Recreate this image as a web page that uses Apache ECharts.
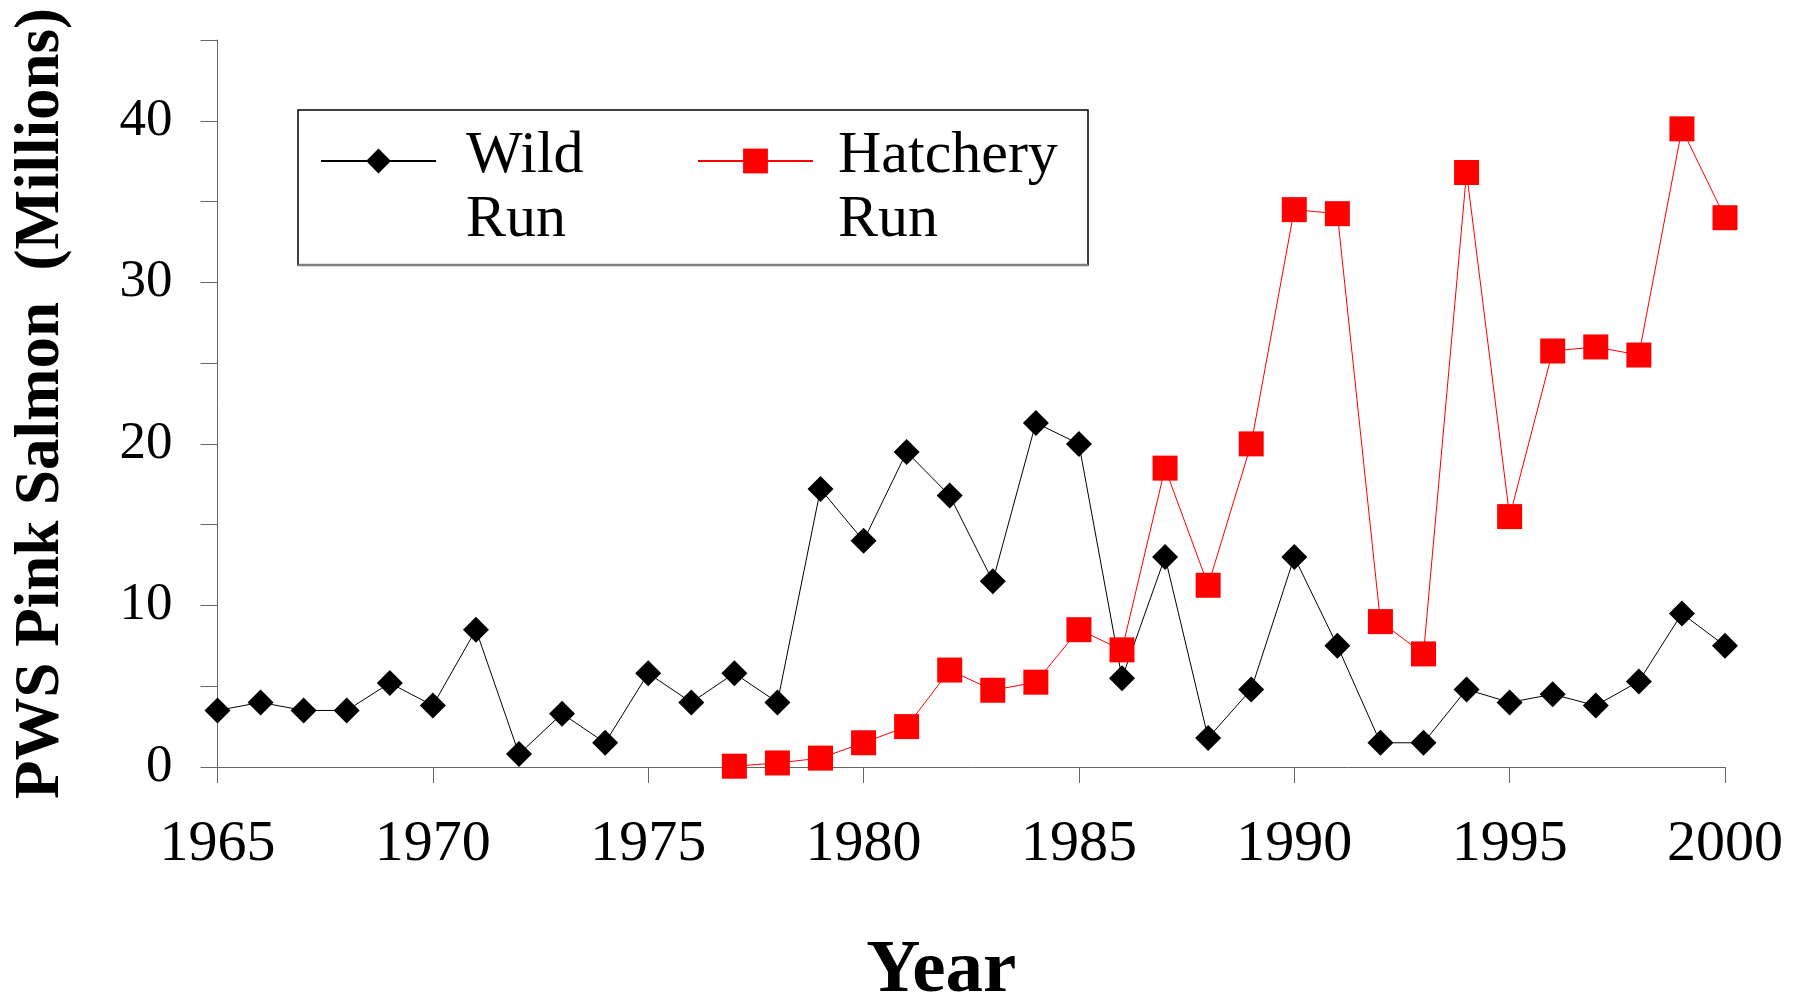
<!DOCTYPE html>
<html>
<head>
<meta charset="utf-8">
<script src="https://cdn.jsdelivr.net/npm/echarts@6/dist/echarts.min.js"></script>
<style>
  html, body { margin: 0; padding: 0; background: #fff; }
  #chart { width: 1814px; height: 993px; }
</style>
</head>
<body>
<div id="chart"></div>
<script>
// years and values (millions of fish)
const wildYears = [1965, 1966, 1967, 1968, 1969, 1970, 1971, 1972, 1973, 1974, 1975, 1976,
  1977, 1978, 1979, 1980, 1981, 1982, 1983, 1984, 1985, 1986, 1987, 1988,
  1989, 1990, 1991, 1992, 1993, 1994, 1995, 1996, 1997, 1998, 1999, 2000]
const wildRun = [3.5, 4.0, 3.5, 3.5, 5.2, 3.8, 8.5, 0.8, 3.3, 1.5, 5.8, 4.0,
  5.8, 4.0, 17.2, 14.0, 19.5, 16.8, 11.5, 21.3, 20.0, 5.5, 13.0, 1.8,
  4.8, 13.0, 7.5, 1.5, 1.5, 4.8, 4.0, 4.5, 3.8, 5.3, 9.5, 7.5]

const hatcheryYears = [1977, 1978, 1979, 1980, 1981, 1982, 1983, 1984, 1985, 1986, 1987, 1988,
  1989, 1990, 1991, 1992, 1993, 1994, 1995, 1996, 1997, 1998, 1999, 2000]
const hatcheryRun = [0.05, 0.25, 0.55, 1.5, 2.5, 6.0, 4.75, 5.25, 8.5, 7.25, 18.5, 11.25,
  20.0, 34.5, 34.25, 9.0, 7.0, 36.8, 15.5, 25.75, 26.0, 25.5, 39.5, 34.0]

const yTicks = [0, 10, 20, 30, 40]

const serif = 'Liberation Serif'
const axisGray = '#666'

const chart = echarts.init(document.getElementById('chart'))

// legend text: an empty first line so the icon sits beside the first word
const legendText = {
  fontFamily: serif,
  fontSize: 60,
  color: '#000',
  rich: {
    e: {fontFamily: serif, fontSize: 60, lineHeight: 55},
    t: {fontFamily: serif, fontSize: 60, lineHeight: 64, color: '#000'}
  }
}

const legendBase = {
  orient: 'horizontal',
  padding: 0,
  itemWidth: 115,
  itemHeight: 31,
  selectedMode: false
}

const option = {
  animation: false,
  backgroundColor: '#fff',
  grid: {
    left: 217.5,
    right: 89,
    top: 40,
    bottom: 226,
    containLabel: false,
    outerBoundsMode: 'none'
  },
  legend: [
    Object.assign({}, legendBase, {
      data: ['Wild'],
      left: 320,
      top: 67,
      formatter: () => '{e| }\n{t|Wild}\n{t|Run}',
      textStyle: Object.assign({}, legendText, {padding: [0, 0, 0, 25]})
    }),
    Object.assign({}, legendBase, {
      data: ['Hatchery'],
      left: 697,
      top: 67,
      formatter: () => '{e| }\n{t|Hatchery}\n{t|Run}',
      textStyle: Object.assign({}, legendText, {padding: [0, 0, 0, 20]})
    })
  ],
  graphic: [
    {
      type: 'rect',
      shape: {x: 298, y: 110, width: 790, height: 155},
      style: {fill: 'none', stroke: '#000', lineWidth: 1.5},
      z: 1
    },
    {
      type: 'line',
      shape: {x1: 298, y1: 265, x2: 1088, y2: 265},
      style: {stroke: '#808080', lineWidth: 2.5},
      z: 2
    }
  ],
  xAxis: {
    type: 'value',
    min: 1965,
    max: 2000,
    interval: 5,
    name: 'Year',
    nameLocation: 'middle',
    nameGap: 167,
    nameTextStyle: {
      fontFamily: serif,
      fontSize: 75,
      fontWeight: 'bold',
      color: '#000',
      padding: [0, 60, 0, 0]
    },
    splitLine: {show: false},
    axisLine: {lineStyle: {color: axisGray, width: 1}},
    axisTick: {
      show: true,
      inside: false,
      length: 16,
      lineStyle: {color: axisGray}
    },
    axisLabel: {
      fontFamily: serif,
      fontSize: 58,
      color: '#000',
      margin: 49,
      formatter: v => String(v)
    }
  },
  yAxis: {
    type: 'value',
    min: 0,
    max: 45,
    interval: 5,
    name: 'PWS Pink Salmon  (Millions)',
    nameLocation: 'middle',
    nameGap: 144,
    nameTextStyle: {
      fontFamily: serif,
      fontSize: 63,
      fontWeight: 'bold',
      color: '#000'
    },
    splitLine: {show: false},
    axisLine: {show: true, lineStyle: {color: axisGray, width: 1}},
    axisTick: {
      show: true,
      inside: false,
      length: 17,
      lineStyle: {color: axisGray}
    },
    axisLabel: {
      fontFamily: serif,
      fontSize: 53,
      color: '#000',
      margin: 45,
      formatter: v => (yTicks.indexOf(v) >= 0 ? String(v) : '')
    }
  },
  series: [
    {
      name: 'Wild',
      type: 'line',
      data: wildYears.map((y, i) => [y, wildRun[i]]),
      symbol: 'diamond',
      symbolSize: 26,
      showSymbol: true,
      clip: false,
      color: '#000',
      lineStyle: {color: '#000', width: 1},
      itemStyle: {color: '#000'},
      z: 3
    },
    {
      name: 'Hatchery',
      type: 'line',
      data: hatcheryYears.map((y, i) => [y, hatcheryRun[i]]),
      symbol: 'rect',
      symbolSize: 25,
      showSymbol: true,
      clip: false,
      color: '#ff0000',
      lineStyle: {color: '#ff0000', width: 1},
      itemStyle: {color: '#ff0000'},
      z: 4
    }
  ]
}

chart.setOption(option)
</script>
</body>
</html>
